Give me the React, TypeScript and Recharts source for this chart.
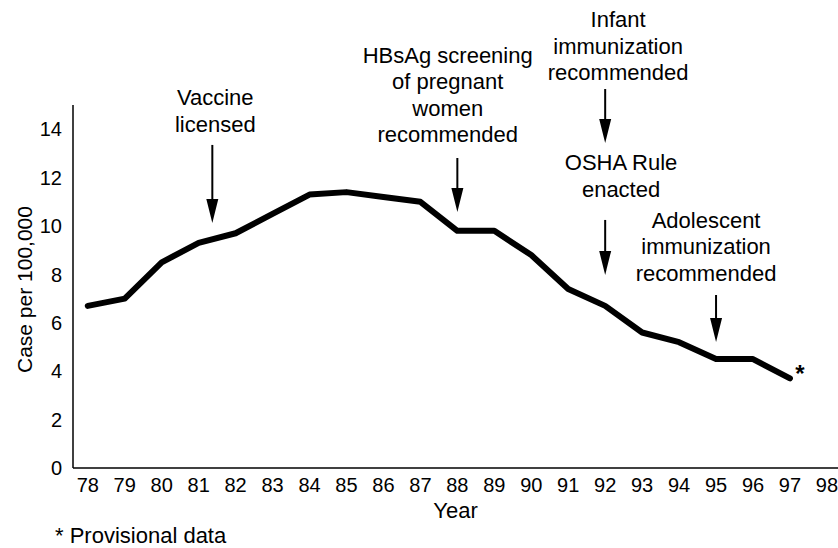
import { LineChart, Line, XAxis, YAxis, ReferenceLine, ReferenceDot } from "recharts";

const FONT = '"Liberation Sans", Arial, Helvetica, sans-serif';

// Hepatitis B incidence, cases per 100,000, 1978-1997 (97 provisional)
const years = [78, 79, 80, 81, 82, 83, 84, 85, 86, 87, 88, 89, 90, 91, 92, 93, 94, 95, 96, 97];
const cases = [6.7, 7.0, 8.5, 9.3, 9.7, 10.5, 11.3, 11.4, 11.2, 11.0, 9.8, 9.8, 8.8, 7.4, 6.7, 5.6, 5.2, 4.5, 4.5, 3.7];

const xTicks = [78, 79, 80, 81, 82, 83, 84, 85, 86, 87, 88, 89, 90, 91, 92, 93, 94, 95, 96, 97, 98];
const yTicks = [0, 2, 4, 6, 8, 10, 12, 14];

// policy events: arrow (year, from, to) and text block above it, in data units
const arrows = [
  { x: 81.37, from: 13.35, to: 10.12 },
  { x: 88, from: 12.81, to: 10.58 },
  { x: 92, from: 15.66, to: 13.43 },
  { x: 92, from: 10.25, to: 7.98 },
  { x: 95, from: 7.15, to: 5.21 },
];
const notes = [
  { x: 81.45, y: 15.0, lines: ["Vaccine", "licensed"] },
  { x: 87.74, y: 16.74, lines: ["HBsAg screening", "of pregnant", "women", "recommended"] },
  { x: 92.35, y: 18.22, lines: ["Infant", "immunization", "recommended"] },
  { x: 92.43, y: 12.31, lines: ["OSHA Rule", "enacted"] },
  { x: 94.73, y: 9.92, lines: ["Adolescent", "immunization", "recommended"] },
];

const data = years.map((year, i) => ({ year, cases: cases[i] }));

const Arrow = (p: any) => {
  const x = p.x1;
  const top = Math.min(p.y1, p.y2);
  const tip = Math.max(p.y1, p.y2);
  const head = 24;
  return (
    <g>
      <line x1={x} y1={top} x2={x} y2={tip - head + 2} stroke="#000" strokeWidth={2} />
      <polygon points={`${x - 6},${tip - head} ${x + 6},${tip - head} ${x},${tip}`} fill="#000" />
    </g>
  );
};

const noteShape = (lines: string[]) => (p: any) => (
  <text x={p.cx} y={p.cy} textAnchor="middle" fontFamily={FONT} fontSize={22} fill="#000">
    {lines.map((l, i) => (
      <tspan key={i} x={p.cx} dy={i === 0 ? 0 : 26.5}>
        {l}
      </tspan>
    ))}
  </text>
);

const YLabel = (p: any) => {
  const vb = p.viewBox || { x: 0, y: 105, width: 73, height: 363 };
  const cx = vb.x + 24;
  const cy = vb.y + vb.height / 2 + 3;
  return (
    <text
      x={cx}
      y={cy}
      transform={`rotate(-90 ${cx} ${cy})`}
      textAnchor="middle"
      dominantBaseline="central"
      fontFamily={FONT}
      fontSize={21}
      fill="#000"
    >
      Case per 100,000
    </text>
  );
};

export default function App() {
  const tick = { fontFamily: FONT, fontSize: 20, fill: "#000" };
  return (
    <div style={{ position: "absolute", left: 0, top: 0, width: 838, height: 548, background: "#fff" }}>
      <LineChart width={838} height={548} data={data} margin={{ top: 105, right: 0, bottom: 0, left: 0 }}>
        <XAxis
          dataKey="year"
          type="number"
          domain={[77.6, 98.3]}
          ticks={xTicks}
          interval={0}
          height={80}
          tickLine={false}
          tickSize={0}
          tickMargin={10}
          tick={tick}
          axisLine={{ stroke: "#000", strokeWidth: 1.5 }}
          label={{ value: "Year", position: "insideTop", offset: 34, style: { fontFamily: FONT, fontSize: 22, fill: "#000" } }}
        />
        <YAxis
          type="number"
          domain={[0, 15]}
          ticks={yTicks}
          width={73}
          tickLine={false}
          tickSize={0}
          tickMargin={11}
          tick={tick}
          axisLine={{ stroke: "#000", strokeWidth: 1.5 }}
          label={<YLabel />}
        />
        <Line
          dataKey="cases"
          stroke="#000"
          strokeWidth={6}
          strokeLinejoin="round"
          strokeLinecap="round"
          dot={false}
          activeDot={false}
          isAnimationActive={false}
        />
        {arrows.map((a, i) => (
          <ReferenceLine
            key={`a${i}`}
            segment={[
              { x: a.x, y: a.from },
              { x: a.x, y: a.to },
            ]}
            ifOverflow="visible"
            shape={Arrow}
          />
        ))}
        {notes.map((n, i) => (
          <ReferenceDot key={`n${i}`} x={n.x} y={n.y} r={0} ifOverflow="visible" shape={noteShape(n.lines)} />
        ))}
        <ReferenceDot
          x={years[years.length - 1]}
          y={cases[cases.length - 1]}
          r={0}
          ifOverflow="visible"
          shape={(p: any) => (
            <text x={p.cx + 10} y={p.cy + 4} textAnchor="middle" fontFamily={FONT} fontSize={24} fontWeight="bold" fill="#000">
              *
            </text>
          )}
        />
      </LineChart>
      <div
        style={{
          position: "absolute",
          left: 55,
          top: 524,
          fontFamily: FONT,
          fontSize: 22,
          lineHeight: "24px",
          color: "#000",
          whiteSpace: "nowrap",
        }}
      >
        * Provisional data
      </div>
    </div>
  );
}
